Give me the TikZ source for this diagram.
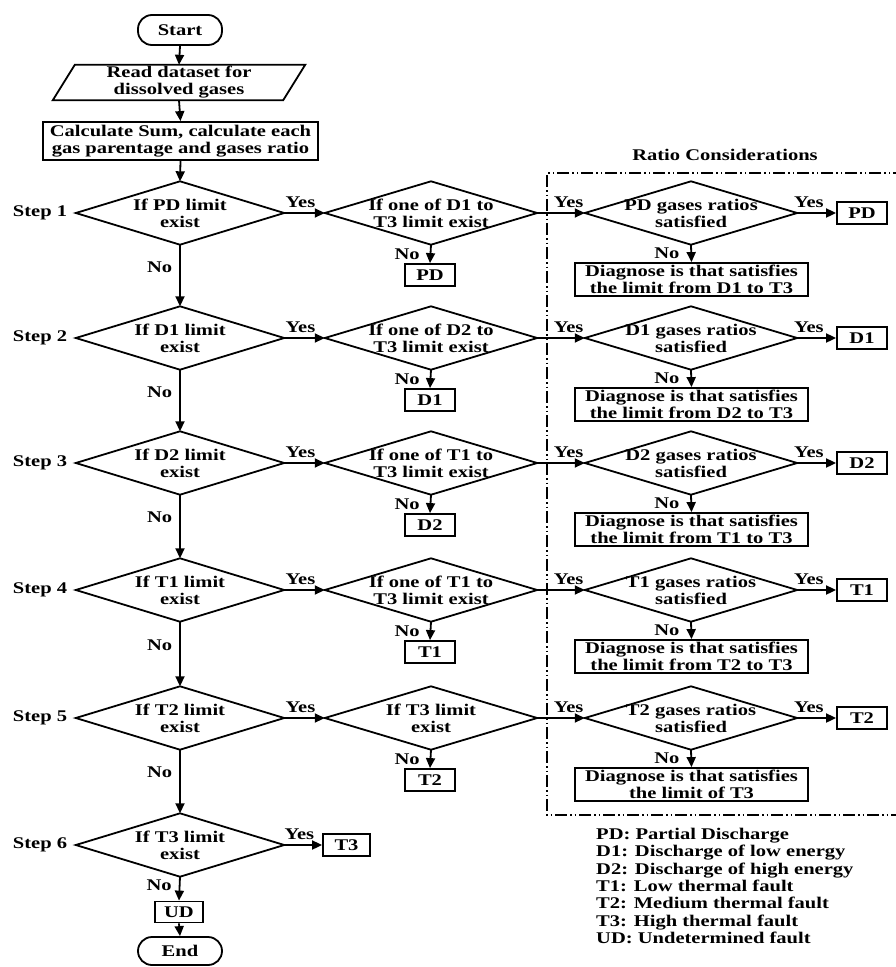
\documentclass[tikz,border=0pt]{standalone}
\usepackage{fontspec}
\setmainfont{Liberation Serif}[FakeStretch=1.26]
\usetikzlibrary{arrows.meta,calc}
\begin{document}
\begin{tikzpicture}[x=1pt,y=-1pt,
  every node/.style={font=\fontsize{16.3}{17}\selectfont\bfseries, inner sep=1pt},
  ln/.style={line width=1.8pt},
  arr/.style={ln,-{Triangle[length=10pt,width=9pt]}},
  box/.style={draw,ln,rectangle,inner sep=2pt,align=center},
  outbox/.style={box,minimum width=50pt,minimum height=22pt,inner sep=0pt},
  diagbox/.style={box,minimum width=233pt,minimum height=33pt,inner sep=0pt},
  dm/.style={minimum width=#1, minimum height=63pt, inner sep=0pt, align=center},
  term/.style={box,rounded corners=14pt,minimum width=84pt,minimum height=30pt},
  ylab/.style={above=3pt},
  ratio/.style={line width=1.5pt, dash pattern=on 12pt off 3pt on 1.5pt off 3pt on 1.5pt off 3pt}
]
\useasboundingbox (0,0) rectangle (895,967);

% main column
\node[term] (start) at (180,30) {Start};
\node[minimum width=230pt, minimum height=35pt, align=center, inner sep=0pt] (read) at (179,82.5) {Read dataset for\\dissolved gases};
\draw[ln] ([xshift=11pt]read.north west) -- ([xshift=11pt]read.north east) -- ([xshift=-11pt]read.south east) -- ([xshift=-11pt]read.south west) -- cycle;
\node[box, minimum width=275pt, minimum height=38pt, inner sep=0pt] (calc) at (180.5,141) {Calculate Sum, calculate each\\gas parentage and gases ratio};

\node[dm=208pt] (m1) at (180,213) {If PD limit\\exist};
\node[dm=208pt] (m2) at (180,338) {If D1 limit\\exist};
\node[dm=208pt] (m3) at (180,463) {If D2 limit\\exist};
\node[dm=208pt] (m4) at (180,590) {If T1 limit\\exist};
\node[dm=208pt] (m5) at (180,718) {If T2 limit\\exist};
\node[dm=208pt] (m6) at (180,845) {If T3 limit\\exist};

\node (st1) at (40,213) {Step 1};
\node (st2) at (40,338) {Step 2};
\node (st3) at (40,463) {Step 3};
\node (st4) at (40,590) {Step 4};
\node (st5) at (40,718) {Step 5};
\node (st6) at (40,845) {Step 6};

% second column
\node[dm=212pt] (s1) at (431,213) {If one of D1 to\\T3 limit exist};
\node[dm=212pt] (s2) at (431,338) {If one of D2 to\\T3 limit exist};
\node[dm=212pt] (s3) at (431,463) {If one of T1 to\\T3 limit exist};
\node[dm=212pt] (s4) at (431,590) {If one of T1 to\\T3 limit exist};
\node[dm=212pt] (s5) at (431,718) {If T3 limit\\exist};

\node[outbox] (n1) at (430,275) {PD};
\node[outbox] (n2) at (430,400) {D1};
\node[outbox] (n3) at (430,525) {D2};
\node[outbox] (n4) at (430,652) {T1};
\node[outbox] (n5) at (430,780) {T2};

% third column
\node[dm=212pt] (r1) at (691,213) {PD gases ratios\\satisfied};
\node[dm=212pt] (r2) at (691,338) {D1 gases ratios\\satisfied};
\node[dm=212pt] (r3) at (691,463) {D2 gases ratios\\satisfied};
\node[dm=212pt] (r4) at (691,590) {T1 gases ratios\\satisfied};
\node[dm=212pt] (r5) at (691,718) {T2 gases ratios\\satisfied};

\node[outbox] (o1) at (862,213) {PD};
\node[outbox] (o2) at (862,338) {D1};
\node[outbox] (o3) at (862,463) {D2};
\node[outbox] (o4) at (862,590) {T1};
\node[outbox] (o5) at (862,718) {T2};

\node[diagbox] (g1) at (691.5,279.5) {Diagnose is that satisfies\\the limit from D1 to T3};
\node[diagbox] (g2) at (691.5,404.5) {Diagnose is that satisfies\\the limit from D2 to T3};
\node[diagbox] (g3) at (691.5,529.5) {Diagnose is that satisfies\\the limit from T1 to T3};
\node[diagbox] (g4) at (691.5,656.5) {Diagnose is that satisfies\\the limit from T2 to T3};
\node[diagbox] (g5) at (691.5,784.5) {Diagnose is that satisfies\\the limit of T3};

% step 6 ends
\node[outbox,minimum width=47pt] (t3) at (346.5,845) {T3};
\node[outbox,minimum width=48pt,minimum height=21pt] (ud) at (179,912) {UD};
\node[term,minimum height=28pt] (end) at (180,951) {End};

% diamonds
\foreach \n in {m1,m2,m3,m4,m5,m6,s1,s2,s3,s4,s5,r1,r2,r3,r4,r5}
  \draw[ln] (\n.west) -- (\n.north) -- (\n.east) -- (\n.south) -- cycle;

% ratio considerations frame
\node (rc) at (725,155) {Ratio Considerations};
\draw[ratio] (905,173) -- (547,173) -- (547,815) -- (905,815);

% connectors
\draw[arr] (start.south) -- (read.north);
\draw[arr] (read.south) -- (calc.north);
\draw[arr] (calc.south) -- (m1.north);
\foreach \a/\b in {m1/m2,m2/m3,m3/m4,m4/m5,m5/m6}
  \draw[arr] (\a.south) -- node[left=6pt,pos=0.36]{No} (\b.north);
\foreach \i in {1,...,5}{
  \draw[arr] (m\i.east) -- node[ylab,pos=0.4]{Yes} (s\i.west);
  \draw[arr] (s\i.south) -- node[left=9pt,pos=0.5]{No} (n\i.north);
  \draw[arr] (s\i.east) -- node[ylab,pos=0.66]{Yes} (r\i.west);
  \draw[arr] (r\i.east) -- node[ylab,pos=0.3]{Yes} (o\i.west);
  \draw[arr] (r\i.south) -- node[left=10pt,pos=0.5]{No} (g\i.north);
}
\draw[arr] (m6.east) -- node[ylab,pos=0.4]{Yes} (t3.west);
\draw[arr] (m6.south) -- node[left=6pt,pos=0.35]{No} (ud.north);
\draw[arr] (ud.south) -- (end.north);

% legend
\node[anchor=north west, align=left, font=\fontsize{16.3}{17.3}\selectfont\bfseries, inner sep=0pt] (legend) at (596,828) {PD: Partial Discharge\\D1: Discharge of low energy\\D2: Discharge of high energy\\T1: Low thermal fault\\T2: Medium thermal fault\\T3: High thermal fault\\UD: Undetermined fault};
\end{tikzpicture}
\end{document}
